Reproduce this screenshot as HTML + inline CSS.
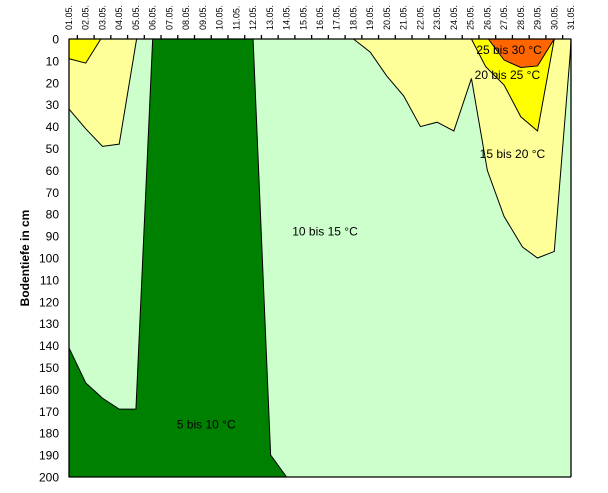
<!DOCTYPE html>
<html><head><meta charset="utf-8"><style>
body{margin:0;background:#fff;width:608px;height:493px;overflow:hidden}
svg{display:block;font-family:"Liberation Sans",sans-serif}
</style></head><body>
<svg id="chart" width="608" height="493" xmlns="http://www.w3.org/2000/svg">
<rect x="69" y="39" width="502" height="438" fill="#ccffcc"/>
<g id="regions"></g>
<g id="labels"></g>
<g id="axes"></g>
<text transform="translate(29,258) rotate(-90)" text-anchor="middle" font-size="12" font-weight="bold">Bodentiefe in cm</text>
</svg>
<script>
const dayLabels=["01.05.","02.05.","03.05.","04.05.","05.05.","06.05.","07.05.","08.05.","09.05.","10.05.","11.05.","12.05.","13.05.","14.05.","15.05.","16.05.","17.05.","18.05.","19.05.","20.05.","21.05.","22.05.","23.05.","24.05.","25.05.","26.05.","27.05.","28.05.","29.05.","30.05.","31.05."];
const depthTicks=[0,10,20,30,40,50,60,70,80,90,100,110,120,130,140,150,160,170,180,190,200];
// region boundaries: [day, depth]
const warmLeftDays=[1,1,2,3,4,5.04];
const warmLeftDepths=[0,32,41,49,48,0];
const hotLeftDays=[1,1,2,2.9];
const hotLeftDepths=[0,9,11,0];
const warmRightDays=[18,19,20,21,22,23,24,25.05,26,27,28.1,29,30,30.95,31];
const warmRightDepths=[0,6,17,26,40,38,42,18,60,81,95,100,97,7,0];
const hotRightDays=[25.05,25.9,27,28,29,30];
const hotRightDepths=[0,12.6,21,35.5,42,0];
const veryHotDays=[26.06,27,28,29,30];
const veryHotDepths=[0,9.6,13,12.3,0];
const coldDays=[1,1,2,3,4,5,6,12,13.05,14];
const coldDepths=[200,141,157,164,169,169,0,0,190,200];
const regionLabels=["25 bis 30 °C","20 bis 25 °C","15 bis 20 °C","10 bis 15 °C","5 bis 10 °C"];
const labelDays=[27.3,27.2,27.5,16.3,9.2];
const labelDepths=[5,16.5,52.5,88,176];

const X0=69,X1=571,Y0=39,Y1=477;
const x=d=>X0+(d-1)*(X1-X0)/30;
const y=v=>Y0+v*(Y1-Y0)/200;
const NS="http://www.w3.org/2000/svg";
const reg=document.getElementById('regions');
function poly(days,depths,fill,name,closeBottom){
  const p=document.createElementNS(NS,'polygon');
  
  
  p.setAttribute('points',days.map((d,i)=>x(d)+','+y(depths[i])).join(' '));
  p.setAttribute('fill',fill);p.setAttribute('stroke','#000');p.setAttribute('stroke-width','1');
  reg.appendChild(p);
}
poly(warmLeftDays,warmLeftDepths,'#ffff99','region-15-20-left');
poly(hotLeftDays,hotLeftDepths,'#ffff00','region-20-25-left');
poly(warmRightDays,warmRightDepths,'#ffff99','region-15-20-right');
poly(hotRightDays,hotRightDepths,'#ffff00','region-20-25-right');
poly(veryHotDays,veryHotDepths,'#ff6600','region-25-30');
poly(coldDays,coldDepths,'#008000','region-5-10');
const lab=document.getElementById('labels');
regionLabels.forEach((t,i)=>{
  const e=document.createElementNS(NS,'text');
  
  
  e.setAttribute('x',x(labelDays[i]));e.setAttribute('y',y(labelDepths[i])+4);
  e.setAttribute('text-anchor','middle');e.setAttribute('font-size','12');
  e.textContent=t;lab.appendChild(e);
});
const ax=document.getElementById('axes');
function line(x1,y1,x2,y2,name){
  const l=document.createElementNS(NS,'line');
  
  
  l.setAttribute('x1',x1);l.setAttribute('y1',y1);l.setAttribute('x2',x2);l.setAttribute('y2',y2);
  l.setAttribute('stroke','#000');l.setAttribute('stroke-width','1.3');ax.appendChild(l);
}
line(X0,Y0,X1,Y0,'x-axis-line');
line(X0,Y0,X0,Y1,'y-axis-line');
line(X1,Y0,X1,Y1,'plot-right-border');
line(X0,Y1,X1,Y1,'plot-bottom-border');
dayLabels.forEach((t,i)=>{
  const e=document.createElementNS(NS,'text');
  
  
  const xx=x(i+1)+3;
  e.setAttribute('transform','translate('+xx+',30) rotate(-90)');
  e.setAttribute('font-size','9');
  e.textContent=t;ax.appendChild(e);
  if(i<30){line(x(i+1.5),Y0,x(i+1.5),Y0-4,'x-tick');}
});
depthTicks.forEach(v=>{
  const e=document.createElementNS(NS,'text');
  
  
  e.setAttribute('x',59);e.setAttribute('y',y(v)+4.5);
  e.setAttribute('text-anchor','end');e.setAttribute('font-size','12');
  e.textContent=v;ax.appendChild(e);
});
</script>
</body></html>
